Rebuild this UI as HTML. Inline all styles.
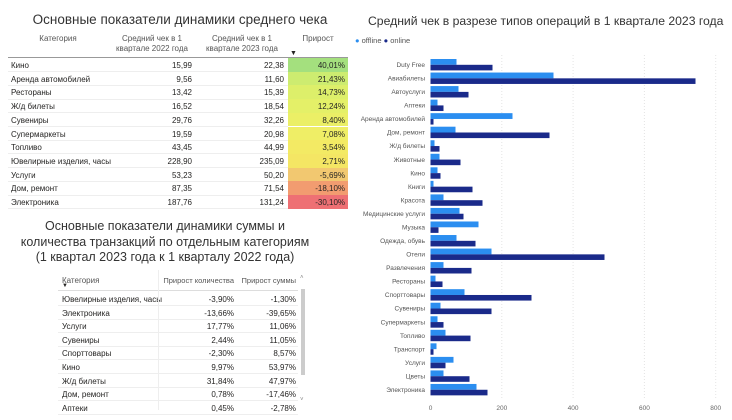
<!DOCTYPE html>
<html><head><meta charset="utf-8"><style>
body{margin:0;width:732px;height:420px;background:#fff;position:relative;overflow:hidden;font-family:"Liberation Sans","DejaVu Sans",sans-serif;color:#252423}
.a{position:absolute;white-space:nowrap}
.t{font-size:8px}
.r{text-align:right}
</style></head><body>
<div class="a" style="left:0;width:360px;top:12px;text-align:center;font-size:13.5px;color:#333">Основные показатели динамики среднего чека</div>
<div class="a t" style="left:8px;top:34px;width:100px;text-align:center;color:#555">Категория</div>
<div class="a t" style="left:112px;top:34px;width:80px;text-align:center;color:#555;line-height:10px">Средний чек в 1<br>квартале 2022 года</div>
<div class="a t" style="left:202px;top:34px;width:80px;text-align:center;color:#555;line-height:10px">Средний чек в 1<br>квартале 2023 года</div>
<div class="a t" style="left:290px;top:34px;width:56px;text-align:center;color:#555">Прирост</div>
<div class="a" style="left:290px;top:50px;font-size:7px">▼</div>
<div class="a" style="left:8px;top:57px;width:340px;height:1px;background:#999"></div>
<div id="t1"></div>
<div class="a" style="left:0;width:330px;top:219px;text-align:center;font-size:12.5px;line-height:15.5px;color:#333">Основные показатели динамики суммы и<br>количества транзакций по отдельным категориям<br>(1 квартал 2023 года к 1 кварталу 2022 года)</div>
<div class="a t" style="left:62px;top:276px;color:#555">Категория</div>
<div class="a" style="left:62px;top:283px;font-size:6px">▼</div>
<div class="a t" style="left:160px;top:276px;width:74px;text-align:right;color:#555;font-size:7.5px">Прирост количества</div>
<div class="a t" style="left:238px;top:276px;width:58px;text-align:right;color:#555;font-size:7.5px">Прирост суммы</div>
<div class="a" style="left:300px;top:275px;font-size:6px;color:#888">˄</div>
<div class="a" style="left:301px;top:289px;width:4px;height:86px;background:#ccc"></div>
<div class="a" style="left:300px;top:397px;font-size:6px;color:#888">˅</div>
<div class="a" style="left:58px;top:290px;width:240px;height:1px;background:#ddd"></div>
<div id="t2"></div>
<div class="a" style="left:368px;top:14px;font-size:12.2px;color:#333">Средний чек в разрезе типов операций в 1 квартале 2023 года</div>
<div class="a" style="left:355px;top:36px;font-size:7.5px;color:#555"><span style="color:#2b8ef0">●</span> offline <span style="color:#1a2a8a">●</span> online</div>
<svg class="a" style="left:0;top:0" width="732" height="420" id="sv"></svg>
<script>
var d1=[["Кино","15,99","22,38","40,01%","#a4e07e"],["Аренда автомобилей","9,56","11,60","21,43%","#cdec70"],["Рестораны","13,42","15,39","14,73%","#ddef6a"],["Ж/д билеты","16,52","18,54","12,24%","#e4f068"],["Сувениры","29,76","32,26","8,40%","#ebef66"],["Супермаркеты","19,59","20,98","7,08%","#efee66"],["Топливо","43,45","44,99","3,54%","#f3ea64"],["Ювелирные изделия, часы","228,90","235,09","2,71%","#f4e664"],["Услуги","53,23","50,20","-5,69%","#f2c870"],["Дом, ремонт","87,35","71,54","-18,10%","#f29c70"],["Электроника","187,76","131,24","-30,10%","#ee7074"]];
var h="";d1.forEach(function(r,i){var y=58+i*13.7;
h+='<div class="a" style="left:288px;top:'+y+'px;width:60px;height:13.7px;background:'+r[4]+'"></div>';
h+='<div class="a" style="left:8px;top:'+(y+13.2)+'px;width:280px;height:1px;background:#eee"></div>';
h+='<div class="a t" style="left:11px;top:'+(y+3)+'px">'+r[0]+'</div>';
h+='<div class="a t r" style="left:112px;width:80px;top:'+(y+3)+'px">'+r[1]+'</div>';
h+='<div class="a t r" style="left:204px;width:80px;top:'+(y+3)+'px">'+r[2]+'</div>';
h+='<div class="a t r" style="left:288px;width:57px;top:'+(y+3)+'px">'+r[3]+'</div>';});
document.getElementById("t1").outerHTML=h;
var d2=[["Ювелирные изделия, часы","-3,90%","-1,30%"],["Электроника","-13,66%","-39,65%"],["Услуги","17,77%","11,06%"],["Сувениры","2,44%","11,05%"],["Спорттовары","-2,30%","8,57%"],["Кино","9,97%","53,97%"],["Ж/д билеты","31,84%","47,97%"],["Дом, ремонт","0,78%","-17,46%"],["Аптеки","0,45%","-2,78%"]];
h="";d2.forEach(function(r,i){var y=292+i*13.6;
h+='<div class="a" style="left:58px;top:'+(y+13)+'px;width:240px;height:1px;background:#eee"></div>';
h+='<div class="a t" style="left:62px;top:'+(y+3)+'px">'+r[0]+'</div>';
h+='<div class="a t r" style="left:160px;width:74px;top:'+(y+3)+'px">'+r[1]+'</div>';
h+='<div class="a t r" style="left:236px;width:60px;top:'+(y+3)+'px">'+r[2]+'</div>';});
h+='<div class="a" style="left:158px;top:270px;width:1px;height:140px;background:#eee"></div>';
document.getElementById("t2").outerHTML=h;
var b=[["Duty Free",26,62],["Авиабилеты",123,265],["Автоуслуги",28,38],["Аптеки",7,13],["Аренда автомобилей",82,3],["Дом, ремонт",25,119],["Ж/д билеты",4,9],["Животные",9,30],["Кино",7,10],["Книги",3,42],["Красота",13,52],["Медицинские услуги",29,33],["Музыка",48,8],["Одежда, обувь",26,45],["Отели",61,174],["Развлечения",13,41],["Рестораны",5,12],["Спорттовары",34,101],["Сувениры",10,61],["Супермаркеты",7,13],["Топливо",15,40],["Транспорт",6,3],["Услуги",23,15],["Цветы",13,39],["Электроника",46,57]];
var s="";for(var k=1;k<=4;k++){var x=430.5+71.3*k;s+='<line x1="'+x+'" y1="55" x2="'+x+'" y2="398" stroke="#e4e4e4" stroke-dasharray="1,2"/>';}
b.forEach(function(r,i){var c=65+i*13.54;
s+='<rect x="430.5" y="'+(c-6)+'" width="'+r[1]+'" height="5.8" fill="#2b8ef0"/>';
s+='<rect x="430.5" y="'+(c-0.2)+'" width="'+r[2]+'" height="5.6" fill="#1a2a8a"/>';
s+='<text x="425" y="'+(c+2)+'" font-size="6.5" text-anchor="end" fill="#555" font-family="Liberation Sans,sans-serif">'+r[0]+'</text>';});
[0,200,400,600,800].forEach(function(v,k){s+='<text x="'+(430.5+71.3*k)+'" y="410" font-size="6.5" text-anchor="middle" fill="#666" font-family="Liberation Sans,sans-serif">'+v+'</text>';});
document.getElementById("sv").innerHTML=s;
</script>
</body></html>
